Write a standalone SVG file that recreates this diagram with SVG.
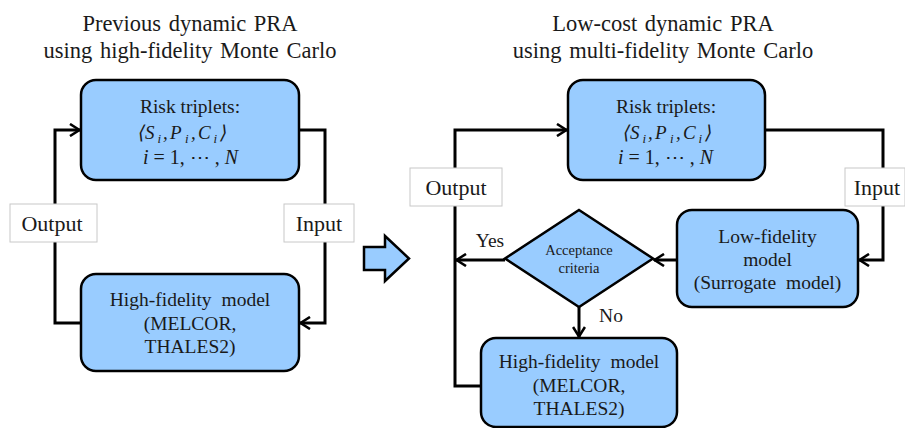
<svg xmlns="http://www.w3.org/2000/svg" width="905" height="428" viewBox="0 0 905 428">
  <style>
    .box { fill: #99CCFF; stroke: #000; stroke-width: 2.5; }
    .lbl { fill: #fff; stroke: #c8c8c8; stroke-width: 1; }
    .wire { fill: none; stroke: #000; stroke-width: 3; }
    text { font-family: "Liberation Serif", "Times New Roman", serif; fill: #1a1a1a; }
    .title { font-size: 22.5px; text-anchor: middle; word-spacing: 2px; }
    .t { font-size: 19.5px; text-anchor: middle; }
    .w { word-spacing: 5px; }
    .lab { font-size: 22px; text-anchor: middle; }
    .m { font-size: 19px; font-style: italic; font-family: "Liberation Serif", "DejaVu Serif", serif; }
    .e { font-size: 20px; }
    .n { font-style: normal; }
    .sub { font-size: 13px; font-style: italic; font-family: "Liberation Serif", "DejaVu Serif", serif; }
    .s { font-size: 14.5px; text-anchor: middle; }
  </style>
  <defs>
    <marker id="arr" viewBox="0 0 12 14" refX="11" refY="7" markerWidth="12" markerHeight="14" markerUnits="userSpaceOnUse" orient="auto">
      <path d="M1,1 L10.5,7 L1,13" fill="none" stroke="#000" stroke-width="2.6"/>
    </marker>
  </defs>

  <!-- headings -->
  <text class="title" x="190" y="31">Previous dynamic PRA</text>
  <text class="title" x="190" y="58">using high-fidelity Monte Carlo</text>
  <text class="title" x="663" y="31">Low-cost dynamic PRA</text>
  <text class="title" x="663" y="58">using multi-fidelity Monte Carlo</text>

  <!-- connectors -->
  <g id="connectors">
    <!-- left loop -->
    <path class="wire" d="M81,323 H55 V130 H80" marker-end="url(#arr)"/>
    <path class="wire" d="M299,130 H325 V323 H300" marker-end="url(#arr)"/>
    <!-- right flow -->
    <path class="wire" d="M481,386 H455 V130 H567" marker-end="url(#arr)"/>
    <path class="wire" d="M765,130 H883 V260 H859" marker-end="url(#arr)"/>
    <path class="wire" d="M677,260 H654" marker-end="url(#arr)"/>
    <path class="wire" d="M505,260 H456" marker-end="url(#arr)"/>
    <path class="wire" d="M579,307 V337" marker-end="url(#arr)"/>
    <text class="t" x="490" y="247">Yes</text>
    <text class="t" x="611" y="322">No</text>
  </g>

  <!-- previous approach -->
  <g id="risk-left">
    <rect class="box" x="81" y="80" width="218" height="100" rx="15"/>
    <text class="t" x="190" y="113">Risk triplets:</text>
    <text class="m" x="138" y="138.5">⟨</text>
    <text class="m" x="145" y="138.5">S</text>
    <text class="sub" x="157.5" y="142.5">i</text>
    <text class="m" x="163" y="138.5">,</text>
    <text class="m" x="170" y="138.5">P</text>
    <text class="sub" x="185" y="142.5">i</text>
    <text class="m" x="191" y="138.5">,</text>
    <text class="m" x="198" y="138.5">C</text>
    <text class="sub" x="213.5" y="142.5">i</text>
    <text class="m" x="220" y="138.5">⟩</text>
    <text class="m e" x="143" y="164">i <tspan class="n">= 1, ⋯ ,</tspan> N</text>
  </g>
  <g id="hifi-left">
    <rect class="box" x="81" y="274" width="218" height="97" rx="15"/>
    <text class="t w" x="190" y="306">High-fidelity model</text>
    <text class="t" x="190" y="330">(MELCOR,</text>
    <text class="t" x="190" y="353">THALES2)</text>
  </g>
  <g id="output-left">
    <rect class="lbl" x="10" y="204" width="87" height="38"/>
    <text class="lab" x="52" y="231">Output</text>
  </g>
  <g id="input-left">
    <rect class="lbl" x="284" y="204" width="70" height="38"/>
    <text class="lab" x="319" y="231">Input</text>
  </g>

  <!-- transition arrow -->
  <g id="block-arrow">
    <path class="box" d="M364,247 H385 V236 L409,258.5 L385,281 V270 H364 Z" stroke-width="2"/>
  </g>

  <!-- multi-fidelity approach -->
  <g id="risk-right">
    <rect class="box" x="568" y="80" width="197" height="100" rx="15"/>
    <text class="t" x="666" y="113">Risk triplets:</text>
    <text class="m" x="623" y="138.5">⟨</text>
    <text class="m" x="630" y="138.5">S</text>
    <text class="sub" x="642.5" y="142.5">i</text>
    <text class="m" x="648" y="138.5">,</text>
    <text class="m" x="655" y="138.5">P</text>
    <text class="sub" x="670" y="142.5">i</text>
    <text class="m" x="676" y="138.5">,</text>
    <text class="m" x="683" y="138.5">C</text>
    <text class="sub" x="698.5" y="142.5">i</text>
    <text class="m" x="705" y="138.5">⟩</text>
    <text class="m e" x="618" y="164">i <tspan class="n">= 1, ⋯ ,</tspan> N</text>
  </g>
  <g id="output-right">
    <rect class="lbl" x="410" y="168" width="92" height="38"/>
    <text class="lab" x="456" y="195">Output</text>
  </g>
  <g id="input-right">
    <rect class="lbl" x="845" y="168" width="60" height="38"/>
    <text class="lab" x="877" y="195">Input</text>
  </g>
  <g id="lofi">
    <rect class="box" x="677" y="210" width="181" height="97" rx="15"/>
    <text class="t" x="767.5" y="243">Low-fidelity</text>
    <text class="t" x="767.5" y="266">model</text>
    <text class="t w" x="767.5" y="289">(Surrogate model)</text>
  </g>
  <g id="acceptance">
    <path class="box" d="M579,210 L653,258.5 L579,307 L505,258.5 Z"/>
    <text class="s" x="579" y="255">Acceptance</text>
    <text class="s" x="579" y="273">criteria</text>
  </g>
  <g id="hifi-right">
    <rect class="box" x="481" y="338" width="196" height="89" rx="15"/>
    <text class="t w" x="579" y="368">High-fidelity model</text>
    <text class="t" x="579" y="392">(MELCOR,</text>
    <text class="t" x="579" y="415">THALES2)</text>
  </g>
</svg>
